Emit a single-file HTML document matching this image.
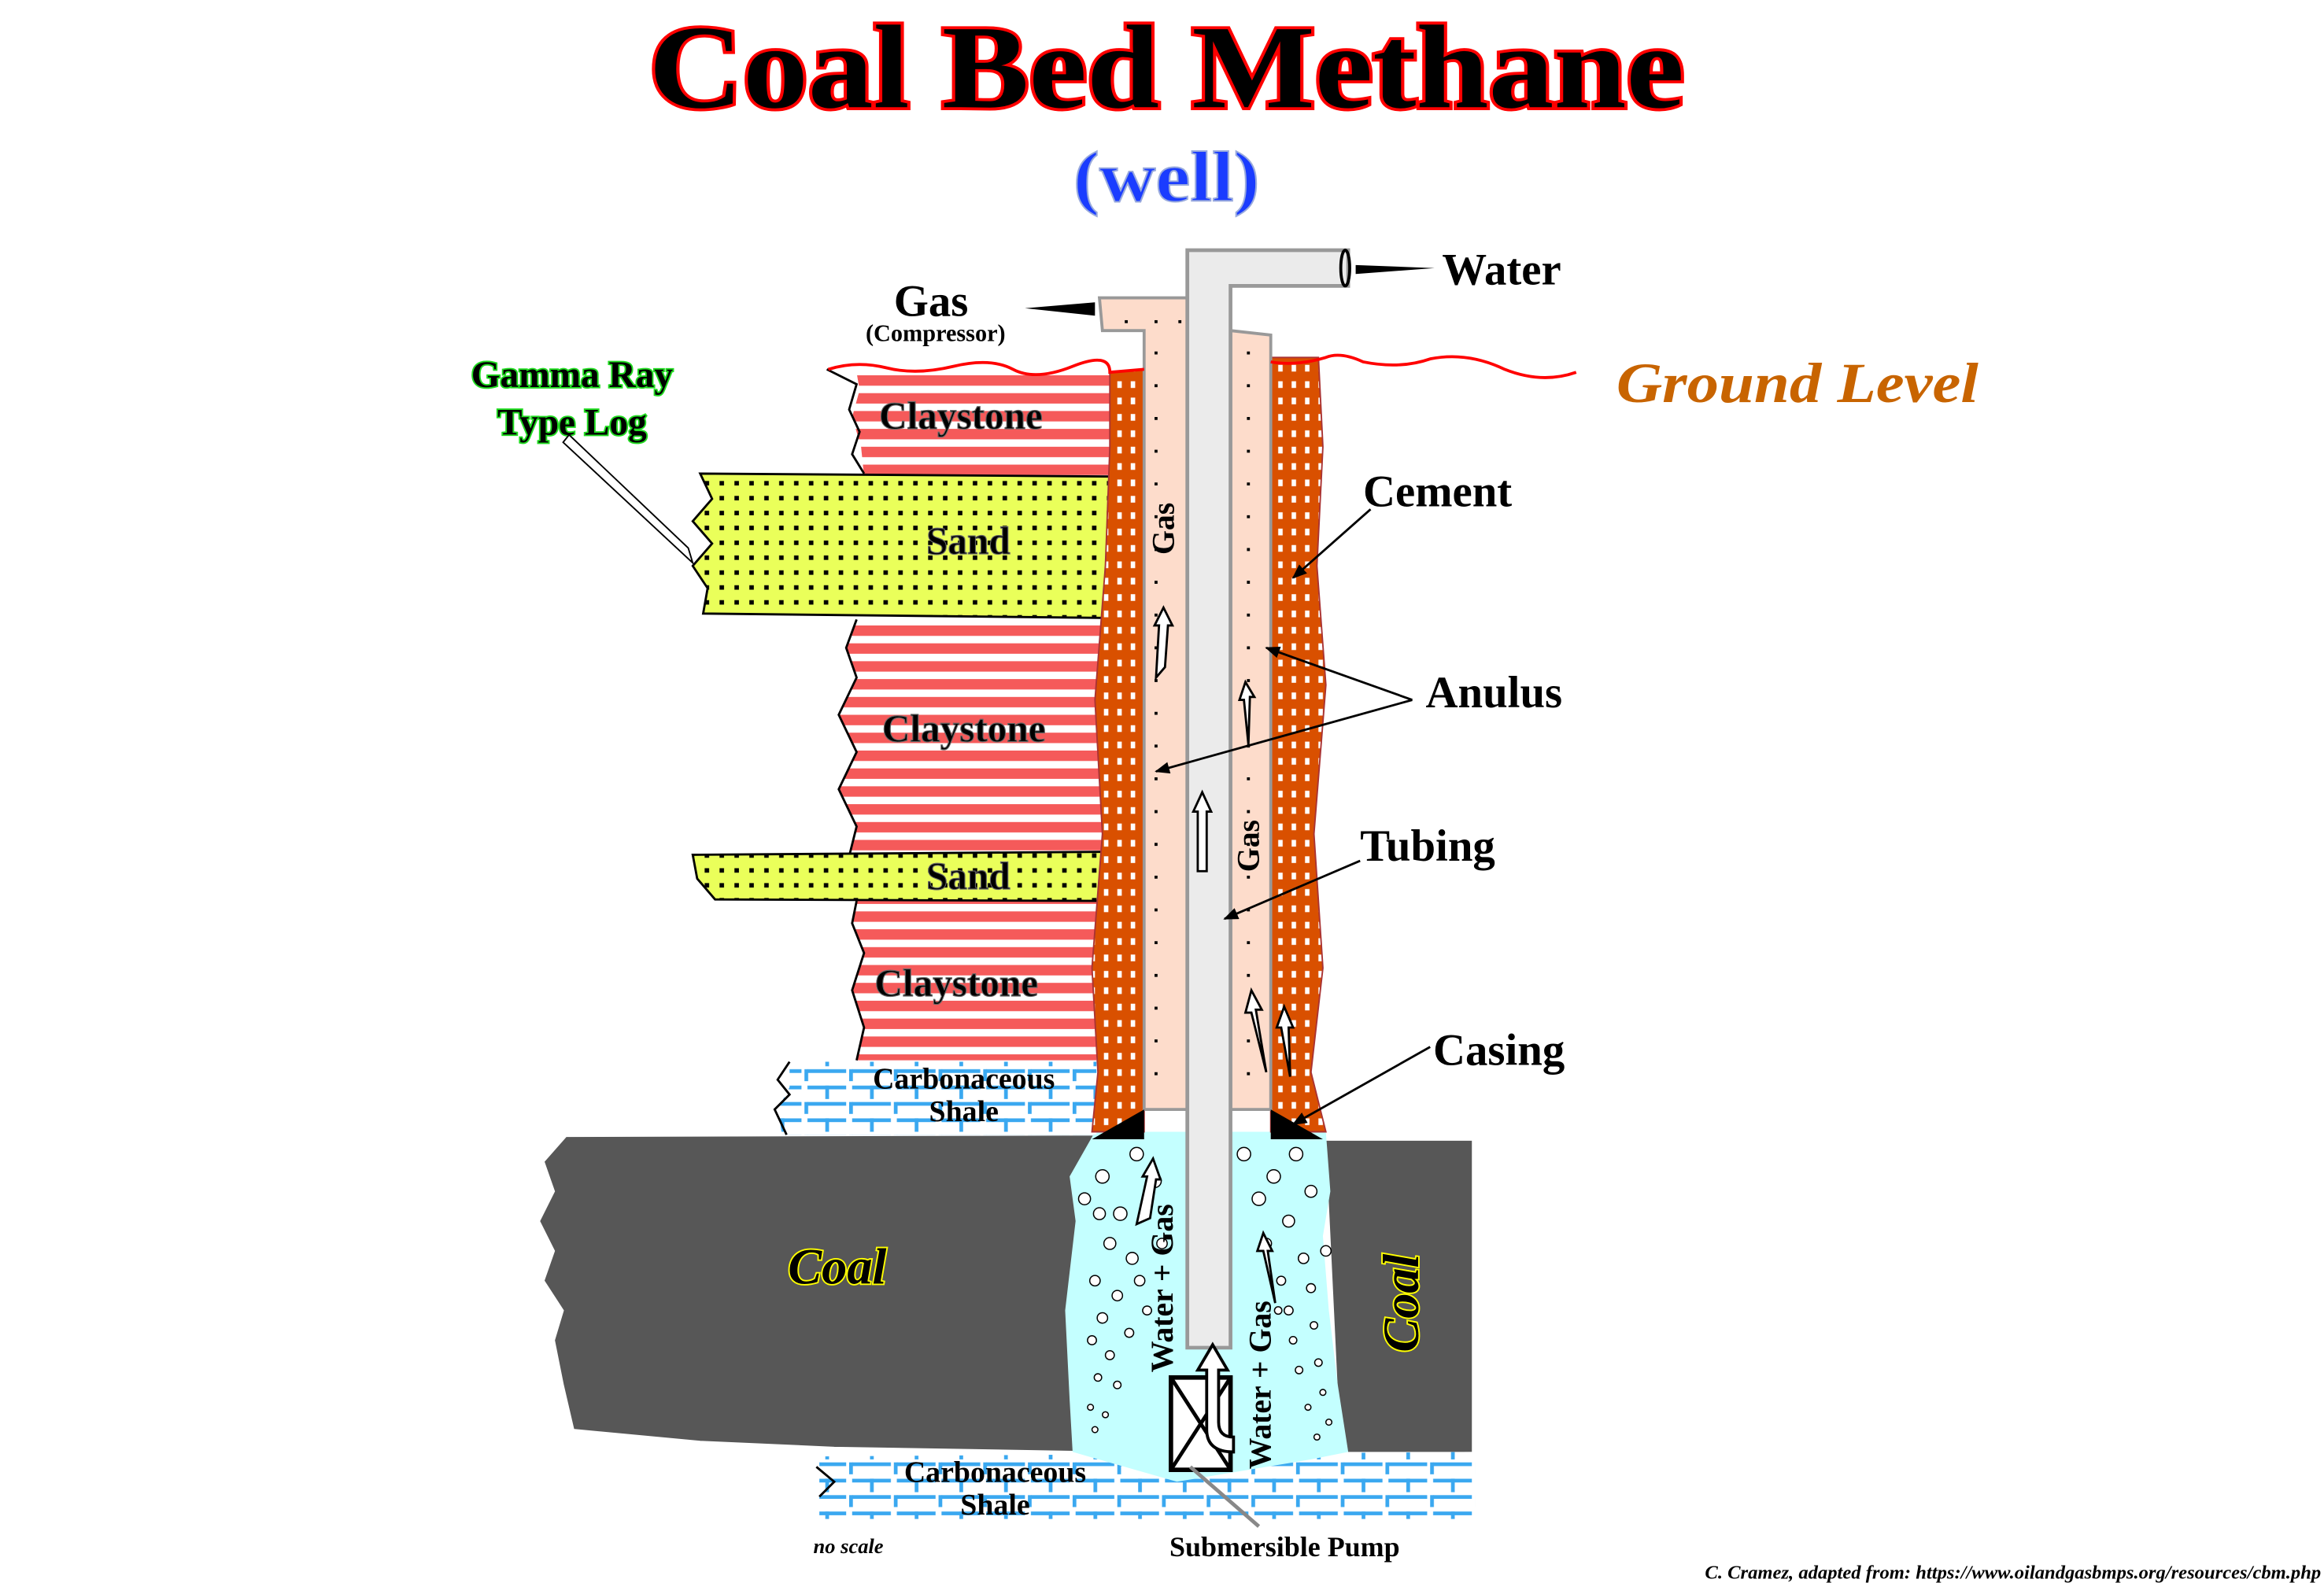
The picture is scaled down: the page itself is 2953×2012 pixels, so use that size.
<!DOCTYPE html>
<html><head><meta charset="utf-8"><style>
html,body{margin:0;padding:0;background:#fff}
svg{display:block}
text{font-family:"Liberation Serif",serif;font-weight:bold}
</style></head><body>
<svg width="2953" height="2012" viewBox="0 0 1560 1063" preserveAspectRatio="none" xmlns="http://www.w3.org/2000/svg">
<defs>
<pattern id="clay" width="10" height="12" patternUnits="userSpaceOnUse"><rect width="10" height="12" fill="#fff"/><rect y="0" width="10" height="7" fill="#f55a5a"/></pattern>
<pattern id="sand" width="10" height="10" patternUnits="userSpaceOnUse"><rect width="10" height="10" fill="#eaff5a"/><rect x="3" y="3" width="3" height="3" fill="#000"/></pattern>
<pattern id="cem" width="9" height="11" patternUnits="userSpaceOnUse"><rect width="9" height="11" fill="#d95000"/><rect x="3" y="3" width="3" height="4.5" fill="#fff"/></pattern>
<pattern id="brick" width="30" height="22" patternUnits="userSpaceOnUse"><rect width="30" height="22" fill="#fff"/>
<rect x="2" y="3" width="26" height="2.5" fill="#3aa8f0"/><rect x="2" y="14" width="26" height="2.5" fill="#3aa8f0"/>
<rect x="14" y="3" width="2.5" height="9" fill="#3aa8f0"/><rect x="0" y="14" width="2.5" height="8" fill="#3aa8f0"/></pattern>
<marker id="ah" markerWidth="10" markerHeight="8" refX="9" refY="4" orient="auto" markerUnits="userSpaceOnUse"><path d="M0,0 L10,4 L0,8 Z" fill="#000"/></marker>
</defs>

<text x="783" y="72" font-size="80" text-anchor="middle" textLength="695" lengthAdjust="spacingAndGlyphs" fill="#000" stroke="#f00" stroke-width="4" paint-order="stroke">Coal Bed Methane</text>
<text x="783" y="135" font-size="48" text-anchor="middle" textLength="125" lengthAdjust="spacingAndGlyphs" fill="#1a3cff" stroke="#9ad" stroke-width="1">(well)</text>

<path d="M380,763 L735,762 L735,975 L560,972 L470,968 L385,960 L378,930 L372,900 L378,880 L365,860 L372,840 L362,820 L372,800 L365,780 Z" fill="#575757" stroke="#fff" stroke-width="1"/>
<path d="M890,766 L988,766 L988,975 L900,975 Z" fill="#575757"/>
<path d="M550,978 L990,975 L990,1020 L550,1020 Z" fill="url(#brick)"/>
<path d="M548,985 L560,995 L550,1005" fill="none" stroke="#000" stroke-width="1.5"/>
<path d="M735,760 L890,760 L893,800 L888,830 L892,880 L898,930 L905,975 L880,980 L790,995 L720,975 L718,940 L715,880 L722,820 L718,790 Z" fill="#c4ffff"/>
<g fill="#fff" stroke="#000" stroke-width="0.8">
<circle cx="740" cy="790" r="4.5"/><circle cx="752" cy="815" r="4.5"/><circle cx="745" cy="835" r="4"/><circle cx="760" cy="845" r="4"/><circle cx="735" cy="860" r="3.5"/><circle cx="750" cy="870" r="3.5"/><circle cx="740" cy="885" r="3.5"/><circle cx="758" cy="895" r="3"/><circle cx="733" cy="900" r="3"/><circle cx="745" cy="910" r="3"/><circle cx="737" cy="925" r="2.5"/><circle cx="750" cy="930" r="2.5"/><circle cx="732" cy="945" r="2"/><circle cx="742" cy="950" r="2"/><circle cx="735" cy="960" r="2"/><circle cx="765" cy="860" r="3.5"/><circle cx="770" cy="880" r="3"/><circle cx="763" cy="775" r="4.5"/><circle cx="775" cy="793" r="4.5"/><circle cx="780" cy="835" r="3.5"/><circle cx="728" cy="805" r="4"/><circle cx="738" cy="815" r="4"/>
<circle cx="835" cy="775" r="4.5"/><circle cx="855" cy="790" r="4.5"/><circle cx="870" cy="775" r="4.5"/><circle cx="845" cy="805" r="4.5"/><circle cx="865" cy="820" r="4"/><circle cx="880" cy="800" r="4"/><circle cx="850" cy="835" r="3.5"/><circle cx="875" cy="845" r="3.5"/><circle cx="860" cy="860" r="3"/><circle cx="880" cy="865" r="3"/><circle cx="865" cy="880" r="3"/><circle cx="882" cy="890" r="2.5"/><circle cx="868" cy="900" r="2.5"/><circle cx="885" cy="915" r="2.5"/><circle cx="872" cy="920" r="2.5"/><circle cx="888" cy="935" r="2"/><circle cx="878" cy="945" r="2"/><circle cx="892" cy="955" r="2"/><circle cx="884" cy="965" r="2"/><circle cx="890" cy="840" r="3.5"/><circle cx="858" cy="880" r="2.5"/>
</g>

<path d="M575,250 L745,250 L745,320 L580,320 L578,300 L572,280 L577,262 Z" fill="url(#clay)"/>
<path d="M555,248 L575,258 L570,275 L577,290 L572,305 L580,318" fill="none" stroke="#000" stroke-width="1.5"/>
<path d="M575,416 L742,416 L740,575 L570,575 L575,555 L563,530 L575,505 L563,480 L575,455 L568,435 Z" fill="url(#clay)"/>
<path d="M575,416 L568,435 L575,455 L563,480 L575,505 L563,530 L575,555 L570,575" fill="none" stroke="#000" stroke-width="1.5"/>
<path d="M575,605 L738,605 L736,712 L575,712 L580,690 L572,665 L580,640 L572,620 Z" fill="url(#clay)"/>
<path d="M575,605 L572,620 L580,640 L572,665 L580,690 L575,712" fill="none" stroke="#000" stroke-width="1.5"/>
<path d="M470,318 L748,320 L748,415 L472,412 L475,395 L465,380 L478,365 L465,350 L478,335 Z" fill="url(#sand)" stroke="#000" stroke-width="1.5"/>
<path d="M465,574 L740,572 L740,605 L480,604 L468,590 Z" fill="url(#sand)" stroke="#000" stroke-width="1.5"/>
<path d="M530,713 L736,713 L736,762 L525,762 L522,745 L530,730 Z" fill="url(#brick)"/>
<path d="M530,713 L522,725 L530,735 L520,745 L528,762" fill="none" stroke="#000" stroke-width="1.5"/>

<path d="M745,250 L768,248 L768,760 L733,760 L737,720 L733,650 L740,560 L735,470 L742,380 L745,300 Z" fill="url(#cem)" stroke="#a33" stroke-width="1"/>
<path d="M853,240 L885,240 L888,300 L884,380 L890,460 L882,560 L888,650 L880,720 L890,760 L853,760 Z" fill="url(#cem)" stroke="#a33" stroke-width="1"/>

<path d="M738,200 L797,200 L797,745 L768,745 L768,222 L740,222 Z" fill="#fddccb" stroke="#999" stroke-width="2"/>
<path d="M826,222 L853,225 L853,745 L826,745 Z" fill="#fddccb" stroke="#999" stroke-width="2"/>
<g fill="#000">
<rect x="775" y="215" width="2" height="2"/><rect x="791" y="215" width="2" height="2"/><rect x="755" y="215" width="2" height="2"/>
</g>
<g stroke="#000" stroke-width="2" stroke-dasharray="2,20">
<line x1="776" y1="236" x2="776" y2="740"/><line x1="838" y1="236" x2="838" y2="740"/>
</g>
<path d="M733,765 L768,745 L768,765 Z" fill="#000"/>
<path d="M853,745 L853,765 L888,765 Z" fill="#000"/>

<path d="M797,168 L905,168 L905,192 L826,192 L826,905 L797,905 Z" fill="#ebebeb" stroke="#999" stroke-width="2.5"/>
<ellipse cx="903" cy="180" rx="3" ry="12" fill="none" stroke="#000" stroke-width="2"/>

<rect x="786" y="925" width="40" height="62" fill="#fff" stroke="#000" stroke-width="3"/>
<path d="M786,925 L826,987 M826,925 L786,987" stroke="#000" stroke-width="2.5"/>
<path d="M810,960 Q810,975 828,975 L828,965 Q818,965 818,955 L818,920 L824,920 L814,903 L804,920 L810,920 Z" fill="#fff" stroke="#000" stroke-width="2"/>
<path d="M799,985 L845,1025" stroke="#888" stroke-width="2.5"/>

<g fill="#fff" stroke="#000" stroke-width="1.5">
<path d="M776,455 L778,420 L775,420 L781,408 L787,420 L784,420 L782,448 Z"/>
<path d="M804,585 L804,545 L801,545 L807,532 L813,545 L810,545 L810,585 Z"/>
<path d="M838,500 L835,470 L832,470 L836,458 L842,468 L839,468 Z"/>
<path d="M850,720 L840,680 L836,680 L840,665 L847,678 L843,678 Z"/>
<path d="M866,723 L860,690 L857,690 L862,676 L868,690 L865,690 Z"/>
<path d="M763,822 L770,790 L767,790 L774,778 L779,792 L776,792 L772,818 Z"/>
<path d="M856,875 L848,840 L844,840 L848,828 L854,840 L851,840 Z"/>
</g>

<path d="M556,248 Q575,242 595,247 T640,246 T680,248 T720,246 T745,250 L768,248" fill="none" stroke="#f00" stroke-width="2"/>
<path d="M853,243 Q870,246 890,240 Q900,236 915,243 Q940,248 960,241 Q985,236 1010,248 Q1035,258 1058,250" fill="none" stroke="#f00" stroke-width="2"/>
<text x="1085" y="270" font-size="38" font-style="italic" textLength="243" lengthAdjust="spacingAndGlyphs" fill="#c86400">Ground Level</text>

<g font-size="26" fill="#000" stroke="#666" stroke-width="0.6">
<text x="645" y="288" text-anchor="middle">Claystone</text>
<text x="650" y="372" text-anchor="middle">Sand</text>
<text x="647" y="498" text-anchor="middle">Claystone</text>
<text x="650" y="597" text-anchor="middle">Sand</text>
<text x="642" y="669" text-anchor="middle">Claystone</text>
</g>
<g font-size="20" fill="#000">
<text x="647" y="731" text-anchor="middle">Carbonaceous</text>
<text x="647" y="753" text-anchor="middle">Shale</text>
<text x="668" y="995" text-anchor="middle">Carbonaceous</text>
<text x="668" y="1017" text-anchor="middle">Shale</text>
</g>
<text x="562" y="862" font-size="34" font-style="italic" fill="#000" stroke="#ff0" stroke-width="2" paint-order="stroke" text-anchor="middle">Coal</text>
<text transform="translate(952,875) rotate(-90)" font-size="34" font-style="italic" fill="#000" stroke="#ff0" stroke-width="2" paint-order="stroke" text-anchor="middle">Coal</text>

<g font-size="21" fill="#000">
<text transform="translate(788,355) rotate(-90)" text-anchor="middle">Gas</text>
<text transform="translate(845,568) rotate(-90)" text-anchor="middle">Gas</text>
<text transform="translate(787,865) rotate(-90)" text-anchor="middle">Water + Gas</text>
<text transform="translate(853,930) rotate(-90)" text-anchor="middle">Water + Gas</text>
</g>

<text x="384" y="260" font-size="25" fill="#000" stroke="#2d2" stroke-width="2" paint-order="stroke" text-anchor="middle">Gamma Ray</text>
<text x="384" y="292" font-size="25" fill="#000" stroke="#2d2" stroke-width="2" paint-order="stroke" text-anchor="middle">Type Log</text>
<path d="M378,297 L465,378 L462,368 L382,292 Z" fill="#fff" stroke="#000" stroke-width="1"/>

<g font-size="30" fill="#000">
<text x="625" y="212" text-anchor="middle">Gas</text>
<text x="968" y="191">Water</text>
<text x="915" y="340">Cement</text>
<text x="957" y="475">Anulus</text>
<text x="913" y="578">Tubing</text>
<text x="962" y="715">Casing</text>
</g>
<text x="628" y="229" font-size="16" text-anchor="middle">(Compressor)</text>
<path d="M688,207 L735,203 L735,212 Z" fill="#000"/>
<path d="M910,178 L963,180 L910,184 Z" fill="#000"/>
<g stroke="#000" stroke-width="1.5" fill="none" marker-end="url(#ah)">
<line x1="920" y1="342" x2="868" y2="388"/>
<line x1="948" y1="470" x2="850" y2="435"/>
<line x1="948" y1="470" x2="776" y2="518"/>
<line x1="913" y1="578" x2="822" y2="617"/>
<line x1="960" y1="703" x2="868" y2="755"/>
</g>
<text x="785" y="1045" font-size="19">Submersible Pump</text>
<text x="546" y="1043" font-size="14" font-style="italic">no scale</text>
<text x="1558" y="1060" font-size="13" font-style="italic" text-anchor="end">C. Cramez, adapted from: https://www.oilandgasbmps.org/resources/cbm.php</text>
</svg>
</body></html>
